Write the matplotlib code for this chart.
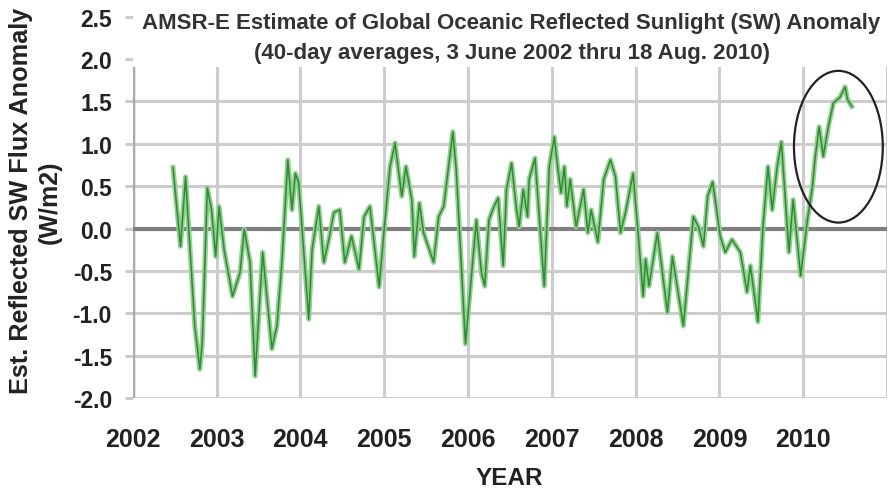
import matplotlib.pyplot as plt
from matplotlib.patches import Ellipse, Rectangle

# decimal year and 40-day average SW anomaly (W/m2)
years = [2002.48, 2002.57, 2002.63, 2002.74, 2002.80, 2002.83, 2002.89, 2002.94,
         2002.99, 2003.03, 2003.09, 2003.19, 2003.28, 2003.33, 2003.40, 2003.46,
         2003.55, 2003.66, 2003.72, 2003.78, 2003.85, 2003.90, 2003.94, 2003.98,
         2004.10, 2004.14, 2004.22, 2004.28, 2004.34, 2004.40, 2004.47, 2004.53,
         2004.61, 2004.70, 2004.76, 2004.83, 2004.94, 2005.01, 2005.07, 2005.13,
         2005.17, 2005.21, 2005.26, 2005.33, 2005.36, 2005.42, 2005.47, 2005.59,
         2005.65, 2005.71, 2005.82, 2005.86, 2005.97, 2006.10, 2006.16, 2006.20,
         2006.25, 2006.31, 2006.36, 2006.42, 2006.46, 2006.52, 2006.58, 2006.61,
         2006.66, 2006.71, 2006.73, 2006.80, 2006.91, 2006.97, 2007.03, 2007.07,
         2007.11, 2007.15, 2007.18, 2007.22, 2007.29, 2007.38, 2007.43, 2007.47,
         2007.55, 2007.62, 2007.70, 2007.76, 2007.82, 2007.88, 2007.97, 2008.03,
         2008.09, 2008.12, 2008.16, 2008.26, 2008.38, 2008.44, 2008.57, 2008.69,
         2008.75, 2008.81, 2008.86, 2008.92, 2009.01, 2009.07, 2009.15, 2009.25,
         2009.33, 2009.37, 2009.46, 2009.52, 2009.58, 2009.63, 2009.69, 2009.74,
         2009.83, 2009.88, 2009.97, 2010.05, 2010.11, 2010.14, 2010.19, 2010.24,
         2010.30, 2010.36, 2010.44, 2010.50, 2010.53, 2010.58]
anomaly = [0.72, -0.21, 0.61, -1.15, -1.66, -1.34, 0.48, 0.22,
           -0.33, 0.26, -0.25, -0.80, -0.52, -0.01, -0.40, -1.74,
           -0.28, -1.42, -1.15, -0.40, 0.81, 0.22, 0.65, 0.54,
           -1.07, -0.25, 0.26, -0.40, -0.13, 0.19, 0.22, -0.40,
           -0.09, -0.48, 0.14, 0.26, -0.69, 0.10, 0.73, 1.01,
           0.69, 0.38, 0.73, 0.34, -0.33, 0.30, -0.05, -0.40,
           0.14, 0.26, 1.14, 0.69, -1.36, 0.10, -0.52, -0.68,
           0.10, 0.26, 0.36, -0.44, 0.46, 0.77, 0.22, 0.02,
           0.46, 0.14, 0.58, 0.83, -0.68, 0.73, 1.08, 0.73,
           0.42, 0.73, 0.26, 0.58, 0.02, 0.46, -0.05, 0.22,
           -0.16, 0.58, 0.81, 0.61, -0.05, 0.19, 0.65, -0.05,
           -0.80, -0.36, -0.68, -0.05, -0.99, -0.33, -1.15, 0.14,
           0.02, -0.21, 0.38, 0.55, -0.09, -0.28, -0.13, -0.28,
           -0.75, -0.44, -1.10, 0.02, 0.73, 0.22, 0.73, 1.02,
           -0.28, 0.34, -0.56, 0.10, 0.49, 0.81, 1.20, 0.85,
           1.20, 1.48, 1.55, 1.67, 1.52, 1.44]

year_ticks = list(range(2002, 2012))
year_labels = [str(y) for y in range(2002, 2011)] + [""]
y_ticks = [-2.0, -1.5, -1.0, -0.5, 0.0, 0.5, 1.0, 1.5, 2.0, 2.5]

plt.rcParams["font.family"] = ["Liberation Sans", "DejaVu Sans"]
plt.rcParams["font.weight"] = "bold"

fig = plt.figure(figsize=(8.91, 4.89), dpi=100)
ax = fig.add_axes([0.149, 0.184, 0.8465, 0.78])

ax.set_xlim(2002, 2011)
ax.set_ylim(-2.0, 2.5)
ax.set_xticks(year_ticks)
ax.set_xticklabels(year_labels)
ax.set_yticks(y_ticks)
ax.set_yticklabels([f"{v:.1f}" for v in y_ticks])

for s in ax.spines.values():
    s.set_visible(False)
ax.grid(True, color="#cccccc", linewidth=2.2)
ax.axvline(2002, color="#aaaaaa", linewidth=2.5, zorder=1.6)
ax.axhline(0, color="#7f7f7f", linewidth=3.0, zorder=1.7)

ax.tick_params(axis="y", length=6, width=2.2, color="#cccccc", pad=9,
               labelsize=16.5, labelcolor="#222222")
ax.tick_params(axis="x", length=0, pad=21, labelsize=18, labelcolor="#222222")

# line: light halo + darker core
ax.plot(years, anomaly, color="#92cf92", linewidth=3.6, zorder=2.1)
ax.plot(years, anomaly, color="#2a8f2a", linewidth=1.1, zorder=2.2)

# white area behind the title (covers the top of the plot)
ax.add_patch(Rectangle((2002, 1.9), 9, 0.6, facecolor="white", edgecolor="none",
                       zorder=2.6))

ax.add_patch(Ellipse((2010.42, 0.965), 1.06, 1.79, fill=False,
                     edgecolor="#222222", linewidth=1.6, zorder=3))

ax.text(2006.52, 2.43, "AMSR-E Estimate of Global Oceanic Reflected Sunlight (SW) Anomaly",
        ha="center", va="center", fontsize=16, color="#333333", zorder=4)
ax.text(2006.52, 2.08, "(40-day averages, 3 June 2002 thru 18 Aug. 2010)",
        ha="center", va="center", fontsize=16, color="#333333", zorder=4)

fig.text(0.024, 0.589, "Est. Reflected SW Flux Anomaly", rotation=90,
         ha="center", va="center", fontsize=18.2, color="#222222")
fig.text(0.056, 0.587, "(W/m2)", rotation=90,
         ha="center", va="center", fontsize=18, color="#222222")
fig.text(0.572, 0.022, "YEAR", ha="center", va="center", fontsize=17.5,
         color="#222222")

fig.savefig("out.png", dpi=100)
